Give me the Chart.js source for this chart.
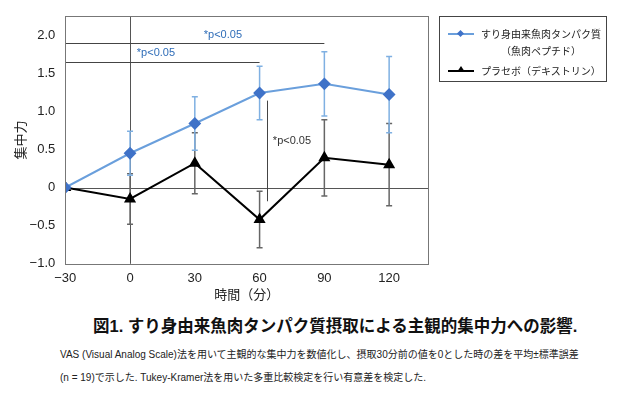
<!DOCTYPE html>
<html>
<head>
<meta charset="utf-8">
<script src="https://cdn.jsdelivr.net/npm/chart.js@4.4.1/dist/chart.umd.min.js"></script>
<style>
  body { margin: 0; background: #fff; font-family: "Liberation Sans", "Noto Sans CJK JP", sans-serif; }
  #wrap { position: relative; width: 631px; height: 399px; }
  #chart { position: absolute; left: 0; top: 0; }
  .legend { position: absolute; left: 439px; top: 16px; width: 166px; height: 64px; border: 1px solid #444; font-size: 10px; color: #222; font-family: "Noto Sans CJK JP", sans-serif; }
  .legend div { white-space: nowrap; }
  .caption { position: absolute; left: 93px; top: 313px; font-size: 16.5px; font-weight: bold; color: #111; font-family: "Liberation Sans", "Noto Sans CJK JP", sans-serif; white-space: nowrap; }
  .note { position: absolute; left: 60px; font-size: 10px; color: #222; font-family: "Liberation Sans", "Noto Sans CJK JP", sans-serif; white-space: nowrap; }
</style>
</head>
<body>
<div id="wrap">
  <canvas id="chart" width="631" height="306"></canvas>
  <div class="legend" id="legend"></div>
  <div class="caption">図1. すり身由来魚肉タンパク質摂取による主観的集中力への影響.</div>
  <div class="note" style="top:346px">VAS (Visual Analog Scale)法を用いて主観的な集中力を数値化し、摂取30分前の値を0とした時の差を平均±標準誤差</div>
  <div class="note" style="top:369px">(n = 19)で示した. Tukey-Kramer法を用いた多重比較検定を行い有意差を検定した.</div>
</div>
<script>
// データ
const times = [-30, 0, 30, 60, 90, 120];
const fishMean = [0, 0.45, 0.84, 1.24, 1.36, 1.22];
const fishSE = [0, 0.29, 0.35, 0.35, 0.42, 0.50];
const placeboMean = [0, -0.15, 0.32, -0.42, 0.39, 0.30];
const placeboSE = [0, 0.33, 0.40, 0.37, 0.50, 0.54];
const xTicks = [-30, 0, 30, 60, 90, 120];
const yTicks = [-1, -0.5, 0, 0.5, 1, 1.5, 2];
const seriesNames = ['すり身由来魚肉タンパク質', '（魚肉ペプチド）', 'プラセボ（デキストリン）'];

// 有意差の表示
const sigH = [
    { from: -30, to: 90, y: 1.9, label: '*p<0.05', lx: 43, ly: 2.0 },
    { from: -30, to: 60, y: 1.65, label: '*p<0.05', lx: 12, ly: 1.77 }
];
const sigV = { x: 63.5, from: 1.14, to: -0.18, label: '*p<0.05', lx: 75, ly: 0.61 };

const blueLine = '#6a9fdc';
const blueMark = '#3f72c8';
const blueErr = '#7fb0e2';

function pts(vals) {
    return times.map((t, i) => ({ x: t, y: vals[i] }));
}

const overlay = {
    id: 'overlay',
    beforeDatasetsDraw(chart) {
        const { ctx, chartArea: a, scales: { x, y } } = chart;
        ctx.save();
        // 0 の線
        ctx.strokeStyle = '#555';
        ctx.lineWidth = 1;
        ctx.beginPath();
        ctx.moveTo(a.left, Math.round(y.getPixelForValue(0)) + 0.5);
        ctx.lineTo(a.right, Math.round(y.getPixelForValue(0)) + 0.5);
        ctx.moveTo(Math.round(x.getPixelForValue(0)) + 0.5, a.top);
        ctx.lineTo(Math.round(x.getPixelForValue(0)) + 0.5, a.bottom);
        ctx.stroke();

        // 誤差線
        const bars = (mean, se, color) => {
            ctx.strokeStyle = color;
            ctx.lineWidth = 1.5;
            times.forEach((t, i) => {
                if (!se[i]) return;
                const px = x.getPixelForValue(t);
                const top = y.getPixelForValue(mean[i] + se[i]);
                const bot = y.getPixelForValue(mean[i] - se[i]);
                ctx.beginPath();
                ctx.moveTo(px, top); ctx.lineTo(px, bot);
                ctx.moveTo(px - 3, top); ctx.lineTo(px + 3, top);
                ctx.moveTo(px - 3, bot); ctx.lineTo(px + 3, bot);
                ctx.stroke();
            });
        };
        bars(placeboMean, placeboSE, '#666');
        bars(fishMean, fishSE, blueErr);

        // 有意差
        ctx.strokeStyle = '#444';
        ctx.lineWidth = 1;
        ctx.font = '11px "Liberation Sans", sans-serif';
        ctx.textAlign = 'center';
        ctx.textBaseline = 'middle';
        sigH.forEach(s => {
            const py = Math.round(y.getPixelForValue(s.y)) + 0.5;
            ctx.beginPath();
            ctx.moveTo(x.getPixelForValue(s.from), py);
            ctx.lineTo(x.getPixelForValue(s.to), py);
            ctx.stroke();
            ctx.fillStyle = '#2f6db8';
            ctx.fillText(s.label, x.getPixelForValue(s.lx), y.getPixelForValue(s.ly));
        });
        const vx = Math.round(x.getPixelForValue(sigV.x)) + 0.5;
        ctx.beginPath();
        ctx.moveTo(vx, y.getPixelForValue(sigV.from));
        ctx.lineTo(vx, y.getPixelForValue(sigV.to));
        ctx.stroke();
        ctx.fillStyle = '#333';
        ctx.fillText(sigV.label, x.getPixelForValue(sigV.lx), y.getPixelForValue(sigV.ly));
        ctx.restore();
    },
    afterDraw(chart) {
        const { ctx, chartArea: a } = chart;
        ctx.save();
        ctx.strokeStyle = '#777';
        ctx.lineWidth = 1;
        ctx.strokeRect(Math.round(a.left) + 0.5, Math.round(a.top) + 0.5, Math.round(a.right - a.left), Math.round(a.bottom - a.top));
        ctx.restore();
    }
};

new Chart(document.getElementById('chart'), {
    type: 'line',
    data: {
        datasets: [{
            label: seriesNames[0],
            data: pts(fishMean),
            borderColor: blueLine,
            backgroundColor: blueMark,
            pointBackgroundColor: blueMark,
            pointBorderColor: blueMark,
            pointStyle: 'rectRot',
            pointRadius: 5,
            borderWidth: 2,
            tension: 0
        }, {
            label: seriesNames[2],
            data: pts(placeboMean),
            borderColor: '#000',
            backgroundColor: '#000',
            pointStyle: 'triangle',
            pointRadius: 5,
            borderWidth: 2,
            tension: 0
        }]
    },
    options: {
        responsive: false,
        animation: false,
        layout: { padding: { left: 6, right: 203, top: 16, bottom: 0 } },
        plugins: { legend: { display: false }, tooltip: { enabled: false } },
        scales: {
            x: {
                type: 'linear',
                min: -30,
                max: 138,
                afterBuildTicks: axis => { axis.ticks = xTicks.map(v => ({ value: v })); },
                ticks: {
                    color: '#222',
                    padding: -1.5,
                    font: { size: 13, family: '"Liberation Sans", sans-serif' },
                    callback: v => String(v).replace('-', '−')
                },
                grid: { display: false },
                border: { display: false },
                title: {
                    display: true,
                    text: '時間（分）',
                    color: '#222',
                    font: { size: 13, family: '"Noto Sans CJK JP", sans-serif' },
                    padding: { top: 2, bottom: 4 }
                }
            },
            y: {
                min: -1,
                max: 2.25,
                afterBuildTicks: axis => { axis.ticks = yTicks.map(v => ({ value: v })); },
                ticks: {
                    color: '#222',
                    padding: 2,
                    font: { size: 13, family: '"Liberation Sans", sans-serif' },
                    callback: v => (v === 0 ? '0' : v.toFixed(1).replace('-', '−'))
                },
                grid: { display: false },
                border: { display: false },
                title: {
                    display: true,
                    text: '集中力',
                    color: '#222',
                    font: { size: 13, family: '"Noto Sans CJK JP", sans-serif' },
                    padding: { top: 6, bottom: 0 }
                }
            }
        }
    },
    plugins: [overlay]
});

// 凡例
const lg = document.getElementById('legend');
lg.innerHTML =
    '<svg width="166" height="64" style="position:absolute;left:0;top:0">' +
    '<line x1="8" y1="17" x2="34" y2="17" stroke="' + blueLine + '" stroke-width="2"/>' +
    '<rect x="18" y="14" width="5" height="5" fill="' + blueMark + '" transform="rotate(45 20.5 16.5)"/>' +
    '<line x1="8" y1="54" x2="34" y2="54" stroke="#000" stroke-width="2"/>' +
    '<polygon points="21,49 25,55 17,55" fill="#000"/>' +
    '</svg>' +
    '<div style="position:absolute;left:41px;top:9px">' + seriesNames[0] + '</div>' +
    '<div style="position:absolute;left:61px;top:26px">' + seriesNames[1] + '</div>' +
    '<div style="position:absolute;left:41px;top:46px">' + seriesNames[2] + '</div>';
</script>
</body>
</html>
